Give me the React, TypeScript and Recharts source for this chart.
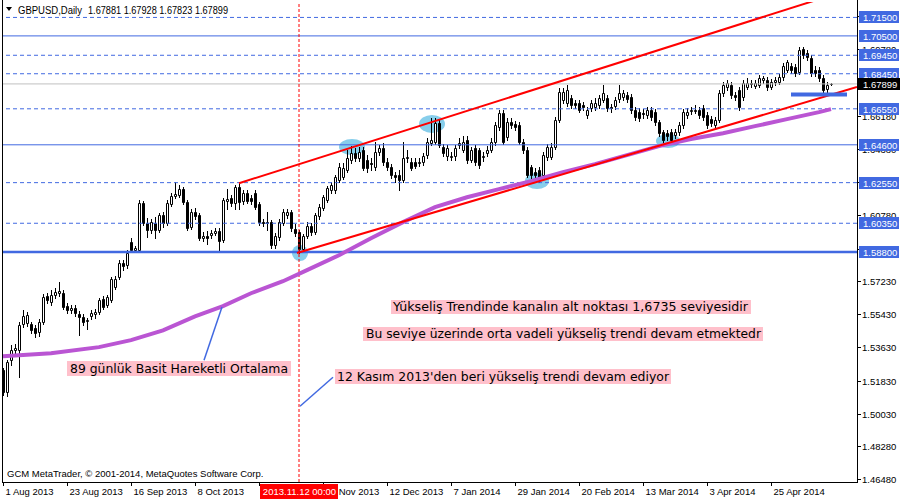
import React from 'react';
import { ComposedChart, Bar, Line, Scatter, XAxis, YAxis, ReferenceLine } from 'recharts';

// [open, high, low, close] daily GBPUSD, bar 0 = 1 Aug 2013
const candles: number[][] = [
  [1.5239,1.5249,1.5103,1.5119],[1.5119,1.5293,1.5098,1.5282],[1.5293,1.5374,1.5266,1.5347],[1.5347,1.5380,1.5331,1.5358],
  [1.5347,1.5499,1.5201,1.5483],[1.5488,1.5564,1.5472,1.5531],[1.5493,1.5553,1.5477,1.5537],[1.5488,1.5499,1.5439,1.5455],
  [1.5466,1.5483,1.5417,1.5439],[1.5445,1.5515,1.5423,1.5499],[1.5499,1.5651,1.5488,1.5634],[1.5640,1.5656,1.5602,1.5618],
  [1.5607,1.5672,1.5591,1.5645],[1.5645,1.5683,1.5629,1.5661],[1.5656,1.5716,1.5640,1.5667],[1.5656,1.5672,1.5569,1.5580],
  [1.5586,1.5602,1.5547,1.5564],[1.5564,1.5591,1.5547,1.5575],[1.5575,1.5591,1.5531,1.5547],[1.5542,1.5558,1.5428,1.5526],
  [1.5526,1.5542,1.5483,1.5499],[1.5504,1.5520,1.5461,1.5510],[1.5531,1.5564,1.5515,1.5547],[1.5542,1.5569,1.5520,1.5553],
  [1.5553,1.5629,1.5542,1.5618],[1.5623,1.5640,1.5569,1.5580],[1.5591,1.5645,1.5580,1.5634],[1.5618,1.5743,1.5607,1.5732],
  [1.5688,1.5748,1.5678,1.5732],[1.5743,1.5835,1.5732,1.5819],[1.5819,1.5835,1.5781,1.5802],[1.5808,1.5889,1.5791,1.5873],
  [1.5932,1.5954,1.5878,1.5889],[1.5889,1.5911,1.5878,1.5900],[1.5889,1.6160,1.5878,1.6144],[1.6144,1.6155,1.6025,1.6035],
  [1.6035,1.6062,1.5960,1.5997],[1.5997,1.6057,1.5981,1.6041],[1.6035,1.6068,1.5954,1.5997],[1.5997,1.6090,1.5987,1.6079],
  [1.6079,1.6095,1.6014,1.6035],[1.6035,1.6160,1.6025,1.6144],[1.6138,1.6198,1.6128,1.6182],[1.6182,1.6258,1.6171,1.6193],
  [1.6187,1.6241,1.6176,1.6220],[1.6220,1.6231,1.6138,1.6149],[1.6149,1.6160,1.5997,1.6008],[1.6014,1.6111,1.6003,1.6095],
  [1.6095,1.6117,1.6057,1.6073],[1.6079,1.6090,1.5943,1.5954],[1.5954,1.5987,1.5938,1.5965],[1.5965,1.5992,1.5922,1.5954],
  [1.5970,1.5997,1.5954,1.5981],[1.5981,1.6008,1.5970,1.5992],[1.5992,1.6008,1.5889,1.5938],[1.5943,1.6171,1.5932,1.6160],
  [1.6155,1.6220,1.6111,1.6165],[1.6171,1.6187,1.6128,1.6144],[1.6144,1.6241,1.6111,1.6231],[1.6231,1.6252,1.6111,1.6149],
  [1.6155,1.6214,1.6138,1.6198],[1.6198,1.6214,1.6144,1.6155],[1.6171,1.6187,1.6138,1.6155],[1.6198,1.6214,1.6111,1.6122],
  [1.6138,1.6149,1.6025,1.6041],[1.6041,1.6057,1.6019,1.6035],[1.6035,1.6095,1.5997,1.6041],[1.6041,1.6052,1.5900,1.5916],
  [1.5916,1.5981,1.5900,1.5965],[1.5960,1.6057,1.5943,1.6041],[1.6035,1.6111,1.6025,1.6095],[1.6079,1.6111,1.6062,1.6095],
  [1.6095,1.6106,1.5992,1.6008],[1.6003,1.6030,1.5965,1.5981],[1.5987,1.5997,1.5873,1.5894],[1.5894,1.5976,1.5878,1.5965],
  [1.5965,1.6041,1.5954,1.6019],[1.6019,1.6035,1.5970,1.5987],[1.5987,1.6090,1.5976,1.6079],[1.6073,1.6138,1.6057,1.6122],
  [1.6117,1.6187,1.6106,1.6176],[1.6160,1.6236,1.6149,1.6225],[1.6214,1.6258,1.6198,1.6241],[1.6214,1.6296,1.6198,1.6285],
  [1.6268,1.6361,1.6258,1.6339],[1.6285,1.6361,1.6274,1.6333],[1.6323,1.6431,1.6312,1.6388],[1.6377,1.6453,1.6361,1.6415],
  [1.6415,1.6442,1.6371,1.6388],[1.6388,1.6447,1.6371,1.6420],[1.6431,1.6447,1.6323,1.6333],[1.6377,1.6404,1.6312,1.6333],
  [1.6361,1.6388,1.6323,1.6355],[1.6339,1.6474,1.6323,1.6420],[1.6420,1.6458,1.6404,1.6442],[1.6442,1.6469,1.6350,1.6366],
  [1.6366,1.6388,1.6323,1.6339],[1.6339,1.6355,1.6279,1.6296],[1.6296,1.6312,1.6258,1.6285],[1.6296,1.6323,1.6214,1.6268],
  [1.6268,1.6474,1.6258,1.6388],[1.6388,1.6431,1.6366,1.6393],[1.6366,1.6388,1.6323,1.6333],[1.6366,1.6388,1.6333,1.6344],
  [1.6361,1.6388,1.6344,1.6366],[1.6366,1.6415,1.6350,1.6398],[1.6404,1.6496,1.6388,1.6474],[1.6469,1.6604,1.6458,1.6485],
  [1.6474,1.6604,1.6463,1.6577],[1.6577,1.6594,1.6447,1.6458],[1.6447,1.6463,1.6398,1.6415],[1.6398,1.6458,1.6377,1.6442],
  [1.6393,1.6420,1.6377,1.6398],[1.6398,1.6458,1.6377,1.6442],[1.6458,1.6496,1.6442,1.6469],[1.6431,1.6507,1.6420,1.6474],
  [1.6485,1.6507,1.6361,1.6377],[1.6377,1.6447,1.6366,1.6431],[1.6442,1.6458,1.6350,1.6366],[1.6431,1.6442,1.6333,1.6350],
  [1.6393,1.6420,1.6371,1.6398],[1.6415,1.6453,1.6398,1.6431],[1.6431,1.6496,1.6420,1.6474],[1.6474,1.6583,1.6458,1.6567],
  [1.6556,1.6648,1.6539,1.6632],[1.6632,1.6648,1.6463,1.6474],[1.6501,1.6604,1.6485,1.6583],[1.6583,1.6604,1.6550,1.6567],
  [1.6572,1.6589,1.6539,1.6556],[1.6567,1.6583,1.6463,1.6474],[1.6474,1.6491,1.6415,1.6431],[1.6431,1.6447,1.6285,1.6296],
  [1.6339,1.6350,1.6279,1.6296],[1.6312,1.6333,1.6268,1.6296],[1.6323,1.6339,1.6258,1.6279],[1.6296,1.6420,1.6279,1.6404],
  [1.6393,1.6463,1.6377,1.6447],[1.6393,1.6469,1.6382,1.6447],[1.6447,1.6610,1.6437,1.6594],[1.6594,1.6767,1.6583,1.6745],
  [1.6702,1.6767,1.6686,1.6745],[1.6686,1.6783,1.6670,1.6756],[1.6713,1.6729,1.6659,1.6675],[1.6686,1.6702,1.6659,1.6675],
  [1.6686,1.6702,1.6637,1.6648],[1.6675,1.6691,1.6648,1.6664],[1.6621,1.6664,1.6604,1.6648],[1.6659,1.6702,1.6642,1.6686],
  [1.6664,1.6713,1.6648,1.6686],[1.6675,1.6729,1.6659,1.6713],[1.6702,1.6783,1.6691,1.6740],[1.6713,1.6729,1.6642,1.6659],
  [1.6664,1.6680,1.6637,1.6659],[1.6670,1.6718,1.6653,1.6702],[1.6707,1.6783,1.6691,1.6740],[1.6718,1.6756,1.6702,1.6740],
  [1.6729,1.6745,1.6691,1.6707],[1.6718,1.6734,1.6632,1.6648],[1.6648,1.6664,1.6594,1.6610],[1.6637,1.6659,1.6589,1.6604],
  [1.6632,1.6653,1.6604,1.6626],[1.6621,1.6664,1.6604,1.6648],[1.6648,1.6664,1.6594,1.6610],[1.6637,1.6653,1.6567,1.6583],
  [1.6583,1.6594,1.6507,1.6523],[1.6529,1.6539,1.6469,1.6485],[1.6523,1.6539,1.6485,1.6507],[1.6529,1.6545,1.6469,1.6485],
  [1.6512,1.6545,1.6496,1.6529],[1.6529,1.6583,1.6512,1.6567],[1.6567,1.6653,1.6550,1.6637],[1.6621,1.6659,1.6604,1.6637],
  [1.6642,1.6664,1.6626,1.6648],[1.6642,1.6675,1.6632,1.6648],[1.6648,1.6664,1.6604,1.6621],[1.6659,1.6675,1.6594,1.6610],
  [1.6621,1.6637,1.6550,1.6567],[1.6599,1.6615,1.6561,1.6577],[1.6567,1.6610,1.6550,1.6594],[1.6594,1.6756,1.6583,1.6740],
  [1.6740,1.6800,1.6724,1.6783],[1.6772,1.6810,1.6756,1.6794],[1.6783,1.6800,1.6713,1.6729],[1.6729,1.6745,1.6702,1.6718],
  [1.6756,1.6772,1.6648,1.6664],[1.6718,1.6810,1.6702,1.6794],[1.6772,1.6821,1.6762,1.6794],[1.6789,1.6810,1.6772,1.6794],
  [1.6778,1.6810,1.6767,1.6794],[1.6783,1.6838,1.6772,1.6821],[1.6810,1.6832,1.6794,1.6821],[1.6810,1.6827,1.6756,1.6772],
  [1.6772,1.6816,1.6762,1.6800],[1.6800,1.6827,1.6783,1.6810],[1.6800,1.6843,1.6789,1.6827],[1.6827,1.6903,1.6810,1.6886],
  [1.6865,1.6919,1.6854,1.6908],[1.6886,1.6903,1.6848,1.6865],[1.6881,1.6897,1.6832,1.6848],[1.6854,1.6989,1.6843,1.6973],
  [1.6978,1.6989,1.6930,1.6946],[1.6957,1.6973,1.6919,1.6935],[1.6930,1.6946,1.6832,1.6848],[1.6865,1.6886,1.6832,1.6848],
  [1.6865,1.6881,1.6805,1.6821],[1.6821,1.6838,1.6745,1.6756],[1.6762,1.6800,1.6734,1.6783],[1.67881,1.67928,1.67823,1.67899],
];

// 89-day simple moving average, read at selected bars
const maBars = [0, 12, 24, 32, 40, 48, 55, 62, 70, 76, 84, 92, 100, 108, 116, 124, 132, 140, 148, 156, 164, 172, 180, 188, 196, 204, 207];
const maValues = [1.5315, 1.5331, 1.5364, 1.5402, 1.5455, 1.5531, 1.5586, 1.5656, 1.5721, 1.5781, 1.5862, 1.5954, 1.6041, 1.6122, 1.6176, 1.6220, 1.6263, 1.6312, 1.6355, 1.6404, 1.6453, 1.6491, 1.6523, 1.6561, 1.6599, 1.6637, 1.6653];

const dateTickBars = [0, 16, 32, 48, 64, 80, 96, 112, 128, 144, 160, 176, 192];
const dateTickLabels = ['1 Aug 2013', '23 Aug 2013', '16 Sep 2013', '8 Oct 2013', '30 Oct 2013', '20 Nov 2013', '12 Dec 2013', '7 Jan 2014', '29 Jan 2014', '20 Feb 2014', '13 Mar 2014', '3 Apr 2014', '25 Apr 2014'];
const crosshairBar = 74;
const crosshairLabel = '2013.11.12 00:00';

const priceTicks = [1.4648, 1.4828, 1.5003, 1.5183, 1.5363, 1.5543, 1.5723, 1.5898, 1.6078, 1.6258, 1.6438, 1.6618, 1.6798, 1.6978, 1.7158];
const solidLevels = [1.705, 1.646, 1.588];
const dashedLevels = [1.715, 1.6945, 1.6845, 1.6655, 1.6255, 1.6035];
const currentPrice = 1.67899;

const xDomain = [0, 213.5];
const yDomain = [1.46334, 1.72336];

const upperChannel = [{ x: 59, y: 1.6252 }, { x: 213.5, y: 1.7314 }];
const lowerChannel = [{ x: 73.5, y: 1.5874 }, { x: 213.5, y: 1.6773 }];
const supportMark = [{ x: 197, y: 1.6732 }, { x: 211, y: 1.6732 }];
const maPointer = [{ x: 54.75, y: 1.5581 }, { x: 50.25, y: 1.5293 }];
const trendPointer = [{ x: 74.25, y: 1.5044 }, { x: 82.5, y: 1.5201 }];

const touchBars = [74.25, 87.25, 107.25, 133.5, 166.25];
const touchPrices = [1.5874, 1.6448, 1.6573, 1.6264, 1.6481];

const maMap = new Map(maBars.map((b, k) => [b, maValues[k]]));
const data = candles.map(([o, h, l, c], i) => ({ i, o, h, l, c, range: [l, h], ma: maMap.has(i) ? maMap.get(i) : null }));
const touchData = touchBars.map((b, k) => ({ i: b, p: touchPrices[k], k }));

const AXIS_FONT = "'Liberation Sans', Arial, sans-serif";
const NOTE_FONT = "'DejaVu Sans', Verdana, sans-serif";
const BLUE = '#4169E1';
const ellipseSizes = [[8, 8], [13, 8], [13, 9], [12, 8], [12, 7]];

function CandleShape(props: any) {
  const { x, y, width, height, payload } = props;
  if (!payload || x == null || y == null) return null;
  const top = Math.min(y, y + height);
  const bottom = Math.max(y, y + height);
  const span = payload.h - payload.l;
  const py = (p: number) => (span > 0 ? top + ((payload.h - p) / span) * (bottom - top) : top);
  const cx = Math.round(x + width / 2) + 0.5;
  const bull = payload.c >= payload.o;
  const bt = Math.round(py(Math.max(payload.o, payload.c))) + 0.5;
  const bb = Math.round(py(Math.min(payload.o, payload.c))) + 0.5;
  return (
    <g>
      <line x1={cx} x2={cx} y1={Math.round(top)} y2={Math.round(bottom) + 1} stroke="#000" strokeWidth={1} />
      <path d={`M${cx - 1},${bt}H${cx + 1}V${bb}H${cx - 1}Z`} fill={bull ? '#fff' : '#000'} stroke="#000" strokeWidth={1} />
    </g>
  );
}

function TouchShape(props: any) {
  const { cx, cy, payload } = props;
  if (cx == null || cy == null) return null;
  const s = ellipseSizes[payload.k];
  return <ellipse cx={cx} cy={cy} rx={s[0]} ry={s[1]} fill="#87CEEB" stroke="none" />;
}

function PriceTick(props: any) {
  const { x, y, payload } = props;
  const v = payload.value;
  const ax = Math.round(x);
  const cy = Math.round(y) + 0.5;
  const label = v.toFixed(5);
  if (v === currentPrice) {
    return (
      <g>
        <rect x={ax + 1} y={cy - 6.5} width={42} height={12} fill="#000" />
        <text x={ax + 6} y={cy + 3.5} fill="#fff" fontSize={9.5} fontFamily={AXIS_FONT}>{label}</text>
      </g>
    );
  }
  if (solidLevels.includes(v) || dashedLevels.includes(v)) {
    return (
      <g>
        <rect x={ax + 2} y={cy - 6.5} width={40} height={12} fill={BLUE} />
        <text x={ax + 6} y={cy + 3.5} fill="#fff" fontSize={9.5} fontFamily={AXIS_FONT}>{label}</text>
      </g>
    );
  }
  return (
    <g>
      <line x1={ax} x2={ax + 4} y1={cy} y2={cy} stroke="#000" />
      <text x={ax + 5} y={cy + 3.5} fill="#000" fontSize={9.5} fontFamily={AXIS_FONT}>{label}</text>
    </g>
  );
}

function DateTick(props: any) {
  const { x, y, payload } = props;
  const v = payload.value;
  const ax = Math.round(x) + 0.5;
  const ay = Math.round(y);
  if (v === crosshairBar) {
    return (
      <g>
        <rect x={ax - 39.5} y={ay + 2} width={78} height={15} fill="#FF0000" />
        <text x={ax} y={ay + 13} fill="#fff" fontSize={9.5} textAnchor="middle" fontFamily={AXIS_FONT}>{crosshairLabel}</text>
      </g>
    );
  }
  const idx = dateTickBars.indexOf(v);
  return (
    <g>
      <line x1={ax} x2={ax} y1={ay} y2={ay + 4} stroke="#000" />
      <text x={ax + 2} y={ay + 13} fill="#000" fontSize={9.5} fontFamily={AXIS_FONT}>{dateTickLabels[idx]}</text>
    </g>
  );
}

export default function App() {
  return (
    <div style={{ position: 'fixed', left: 0, top: 0, width: 900, height: 500, background: '#fff', overflow: 'hidden' }}>
      <ComposedChart width={900} height={500} data={data} margin={{ top: 2, right: 0, bottom: 0, left: 3 }}>
        <XAxis
          dataKey="i"
          type="number"
          domain={xDomain}
          allowDataOverflow
          ticks={[...dateTickBars, crosshairBar]}
          interval={0}
          height={18}
          axisLine={false}
          tickLine={false}
          tickSize={0}
          tickMargin={0}
          tick={(p: any) => <DateTick {...p} />}
        />
        <YAxis
          orientation="right"
          type="number"
          domain={yDomain}
          allowDataOverflow
          ticks={[...priceTicks, ...dashedLevels, ...solidLevels, currentPrice]}
          interval={0}
          width={43}
          axisLine={false}
          tickLine={false}
          tickSize={0}
          tickMargin={0}
          tick={(p: any) => <PriceTick {...p} />}
        />
        {dashedLevels.map((v) => (
          <ReferenceLine key={`d${v}`} y={v} stroke={BLUE} strokeWidth={1} strokeDasharray="4 3" />
        ))}
        {solidLevels.map((v) => (
          <ReferenceLine key={`s${v}`} y={v} stroke={BLUE} strokeWidth={v === 1.588 ? 2.5 : 1} />
        ))}
        <ReferenceLine y={currentPrice} stroke="#C0C0C0" strokeWidth={1} />
        <ReferenceLine x={crosshairBar} stroke="#FF0000" strokeWidth={1} strokeDasharray="3 2" />
        <Scatter data={touchData} dataKey="p" zIndex={250} isAnimationActive={false} shape={(p: any) => <TouchShape {...p} />} />
        <Bar dataKey="range" barSize={3} zIndex={300} isAnimationActive={false} shape={(p: any) => <CandleShape {...p} />} />
        <Line type="linear" dataKey="ma" stroke="#BA55D3" strokeWidth={4} dot={false} activeDot={false} connectNulls isAnimationActive={false} />
        <ReferenceLine segment={upperChannel} stroke="#FF0000" strokeWidth={2} ifOverflow="hidden" />
        <ReferenceLine segment={lowerChannel} stroke="#FF0000" strokeWidth={2} ifOverflow="hidden" />
        <ReferenceLine segment={supportMark} stroke={BLUE} strokeWidth={4} ifOverflow="hidden" />
        <ReferenceLine segment={maPointer} stroke={BLUE} strokeWidth={1.5} ifOverflow="visible" />
        <ReferenceLine segment={trendPointer} stroke={BLUE} strokeWidth={1.5} ifOverflow="visible" />
      </ComposedChart>
      <svg width={900} height={500} style={{ position: 'absolute', left: 0, top: 0, pointerEvents: 'none' }}>
        <line x1={2.5} x2={2.5} y1={0} y2={483} stroke="#000" />
        <line x1={857.5} x2={857.5} y1={0} y2={483} stroke="#000" />
        <line x1={2} x2={858} y1={482.5} y2={482.5} stroke="#000" />
        <polygon points="6,7 12,7 9,11" fill="#000" />
        <text x={18} y={14} fontSize={10} fontFamily={AXIS_FONT} fill="#000" textLength={64} lengthAdjust="spacingAndGlyphs">GBPUSD,Daily</text>
        <text x={88} y={14} fontSize={10} fontFamily={AXIS_FONT} fill="#000" textLength={140} lengthAdjust="spacingAndGlyphs">1.67881 1.67928 1.67823 1.67899</text>
        <text x={7} y={477} fontSize={9.5} fontFamily={AXIS_FONT} fill="#000">GCM MetaTrader, © 2001-2014, MetaQuotes Software Corp.</text>

        <rect x={391} y={300} width={360} height={14} fill="#FFC0CB" />
        <text x={393} y={311} fontSize={12} fontFamily={NOTE_FONT} fill="#000" textLength={355} lengthAdjust="spacingAndGlyphs">Yükseliş Trendinde kanalın alt noktası 1,6735 seviyesidir</text>
        <rect x={363} y={327} width={400} height={14} fill="#FFC0CB" />
        <text x={366} y={338} fontSize={12} fontFamily={NOTE_FONT} fill="#000" textLength={395} lengthAdjust="spacingAndGlyphs">Bu seviye üzerinde orta vadeli yükseliş trendi devam etmektedr</text>
        <rect x={67} y={361} width={224} height={15} fill="#FFC0CB" />
        <text x={70} y={373} fontSize={12} fontFamily={NOTE_FONT} fill="#000" textLength={218} lengthAdjust="spacingAndGlyphs">89 günlük Basit Hareketli Ortalama</text>
        <rect x={335} y={369} width={336} height={15} fill="#FFC0CB" />
        <text x={337} y={381} fontSize={12} fontFamily={NOTE_FONT} fill="#000" textLength={332} lengthAdjust="spacingAndGlyphs">12 Kasım 2013'den beri yükseliş trendi devam ediyor</text>
      </svg>
    </div>
  );
}
